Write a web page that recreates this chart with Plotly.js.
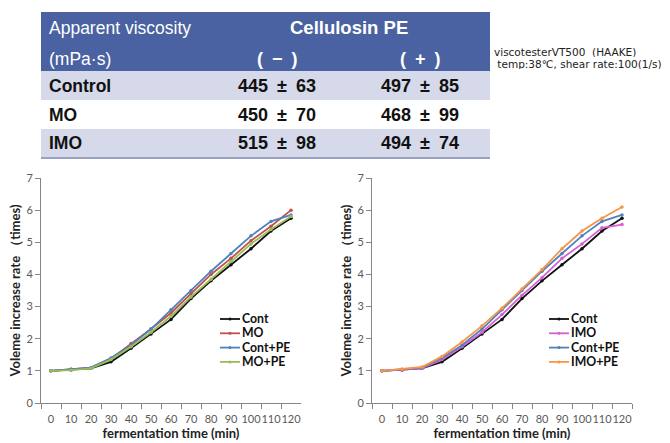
<!DOCTYPE html>
<html>
<head>
<meta charset="utf-8">
<script src="https://cdn.plot.ly/plotly-3.0.1.min.js"></script>
<style>html,body{margin:0;padding:0;background:#fff;}#chart{width:670px;height:443px;}</style>
</head>
<body>
<div id="chart"></div>
<script>
// ---------- data ----------
const times = ['0','10','20','30','40','50','60','70','80','90','100','110','120'];
const cont    = [1.00,1.03,1.08,1.28,1.70,2.15,2.60,3.25,3.80,4.30,4.80,5.35,5.75];
const mo      = [1.00,1.05,1.10,1.38,1.85,2.30,2.80,3.40,4.00,4.50,5.05,5.50,6.00];
const contPE  = [1.00,1.05,1.10,1.40,1.80,2.30,2.90,3.50,4.10,4.65,5.20,5.65,5.85];
const moPE    = [1.00,1.02,1.08,1.35,1.75,2.20,2.70,3.30,3.85,4.40,4.95,5.40,5.80];
const imo     = [1.00,1.03,1.08,1.35,1.75,2.20,2.75,3.35,3.90,4.50,4.95,5.45,5.55];
const imoPE   = [1.00,1.05,1.12,1.45,1.90,2.40,2.95,3.55,4.15,4.80,5.35,5.75,6.10];

const leftNames  = ['Cont','MO','Cont+PE','MO+PE'];
const rightNames = ['Cont','IMO','Cont+PE','IMO+PE'];
const leftSeries  = [cont, mo, contPE, moPE];
const rightSeries = [cont, imo, contPE, imoPE];
const leftColors  = ['#111111','#c0504d','#4f81bd','#9bbb59'];
const rightColors = ['#111111','#d65fd6','#4f81bd','#f79646'];

const tableHeader = ['Apparent viscosity','Cellulosin PE'];
const tableUnit   = '(mPa\u00b7s)';
const colLabels   = ['(\u2002\u2212\u2002)','(\u2002+\u2002)'];
const rowLabels   = ['Control','MO','IMO'];
const minusVals   = ['445\u2002\u00b1\u200263','450\u2002\u00b1\u200270','515\u2002\u00b1\u200298'];
const plusVals    = ['497\u2002\u00b1\u200285','468\u2002\u00b1\u200299','494\u2002\u00b1\u200274'];
const noteLines   = ['viscotesterVT500\u00a0\u00a0(HAAKE)','\u00a0temp:38\u2103,\u00a0shear\u00a0rate:100(1/s)'];

// ---------- helpers ----------
const W = 670, H = 443;
const px = x => x / W;
const py = y => 1 - y / H;

const traces = [];
leftSeries.forEach((s, i) => traces.push({
  x: times, y: s, type: 'scatter', mode: 'lines+markers', name: leftNames[i],
  xaxis: 'x', yaxis: 'y', showlegend: false,
  line: {color: leftColors[i], width: 1.8},
  marker: {color: leftColors[i], size: 3.5}
}));
rightSeries.forEach((s, i) => traces.push({
  x: times, y: s, type: 'scatter', mode: 'lines+markers', name: rightNames[i],
  xaxis: 'x2', yaxis: 'y2', showlegend: false,
  line: {color: rightColors[i], width: 1.8},
  marker: {color: rightColors[i], size: 3.5}
}));

const tickFont = {family: 'Lato, "Liberation Sans", sans-serif', size: 11, color: '#595959'};
const titleFont = {family: 'Lato, "Liberation Sans", sans-serif', size: 13, color: '#222222', weight: 'bold'};

function xAx(domain, anchor) {
  return {
    domain: domain, anchor: anchor, type: 'category', range: [-0.5, 12.5],
    showline: true, linecolor: '#868686', linewidth: 1,
    ticks: 'outside', tickson: 'boundaries', ticklen: 5, tickcolor: '#868686',
    tickangle: 0, ticklabelstandoff: 6,
    showgrid: false, zeroline: false, tickfont: tickFont,
    title: {text: '<b>fermentation time (min)</b>', font: titleFont, standoff: 4},
    fixedrange: true
  };
}
function yAx(domain, anchor) {
  return {
    domain: domain, anchor: anchor, range: [0, 7], dtick: 1,
    showline: true, linecolor: '#868686', linewidth: 1,
    ticks: 'outside', ticklen: 5, tickcolor: '#868686',
    showgrid: false, zeroline: false, tickfont: tickFont,
    title: {text: '<b>Voleme increase rate \uff08times)</b>', font: titleFont, standoff: 2},
    fixedrange: true
  };
}

const yDom = [py(403), py(178)];

const shapes = [];
const annotations = [];

// ---------- table ----------
const tL = 41, tR = 490, hTop = 12, hBot = 71, rowH = 29;
shapes.push({type: 'rect', xref: 'paper', yref: 'paper', x0: px(tL), x1: px(tR), y0: py(hBot), y1: py(hTop),
  fillcolor: '#4a62a2', line: {width: 0}, layer: 'below'});
const cellFont = {family: '"Liberation Sans", Arial, sans-serif', size: 17.5, color: '#111111', weight: 'bold'};
rowLabels.forEach((r, i) => {
  const top = hBot + i * rowH, bot = top + rowH;
  shapes.push({type: 'rect', xref: 'paper', yref: 'paper', x0: px(tL), x1: px(tR), y0: py(bot), y1: py(top),
    fillcolor: i % 2 === 0 ? '#d5d9e9' : '#ffffff', line: {width: 0}, layer: 'below'});
  const cy = py((top + bot) / 2);
  annotations.push({xref: 'paper', yref: 'paper', x: px(47), y: cy, text: '<b>' + r + '</b>', showarrow: false, xanchor: 'left', yanchor: 'middle', font: cellFont});
  annotations.push({xref: 'paper', yref: 'paper', x: px(277), y: cy, text: '<b>' + minusVals[i] + '</b>', showarrow: false, xanchor: 'center', yanchor: 'middle', font: Object.assign({}, cellFont, {size: 18})});
  annotations.push({xref: 'paper', yref: 'paper', x: px(420), y: cy, text: '<b>' + plusVals[i] + '</b>', showarrow: false, xanchor: 'center', yanchor: 'middle', font: Object.assign({}, cellFont, {size: 18})});
});
const tBot = hBot + rowLabels.length * rowH;
shapes.push({type: 'line', xref: 'paper', yref: 'paper', x0: px(tL), x1: px(tR), y0: py(tBot), y1: py(tBot),
  line: {color: '#9aa3c4', width: 2}});
const hf = {family: '"Liberation Sans", Arial, sans-serif', size: 17.5, color: '#ffffff'};
annotations.push({xref: 'paper', yref: 'paper', x: px(47), y: py(28), text: tableHeader[0], showarrow: false, xanchor: 'left', yanchor: 'middle', font: hf});
annotations.push({xref: 'paper', yref: 'paper', x: px(47), y: py(59), text: tableUnit, showarrow: false, xanchor: 'left', yanchor: 'middle', font: hf});
annotations.push({xref: 'paper', yref: 'paper', x: px(348.5), y: py(28), text: '<b>' + tableHeader[1] + '</b>', showarrow: false, xanchor: 'center', yanchor: 'middle', font: {family: hf.family, size: 18.5, color: '#ffffff', weight: 'bold'}});
annotations.push({xref: 'paper', yref: 'paper', x: px(277.5), y: py(59), text: '<b>' + colLabels[0] + '</b>', showarrow: false, xanchor: 'center', yanchor: 'middle', font: {family: hf.family, size: 18, color: '#ffffff', weight: 'bold'}});
annotations.push({xref: 'paper', yref: 'paper', x: px(420), y: py(59), text: '<b>' + colLabels[1] + '</b>', showarrow: false, xanchor: 'center', yanchor: 'middle', font: {family: hf.family, size: 18, color: '#ffffff', weight: 'bold'}});

// note
noteLines.forEach((t, i) => annotations.push({xref: 'paper', yref: 'paper', x: px(493), y: py(51.5 + i * 12), text: t,
  showarrow: false, xanchor: 'left', yanchor: 'middle', height: 11, valign: 'middle', borderpad: 0,
  font: {family: '"DejaVu Sans", sans-serif', size: 10.5, color: '#222222'}}));

// ---------- legends ----------
function legend(names, colors, x0) {
  names.forEach((n, i) => {
    const y = 319 + i * 14.3;
    shapes.push({type: 'line', xref: 'paper', yref: 'paper', x0: px(x0), x1: px(x0 + 20), y0: py(y), y1: py(y),
      line: {color: colors[i], width: 1.8}});
    shapes.push({type: 'circle', xref: 'paper', yref: 'paper', x0: px(x0 + 8.5), x1: px(x0 + 11.5), y0: py(y + 1.5), y1: py(y - 1.5),
      fillcolor: colors[i], line: {width: 0}});
    annotations.push({xref: 'paper', yref: 'paper', x: px(x0 + 20.5), y: py(y), text: '<b>' + n + '</b>', showarrow: false,
      xanchor: 'left', yanchor: 'middle', height: 13.5, valign: 'middle', borderpad: 0,
      font: {family: 'Lato, "Liberation Sans", sans-serif', size: 12.3, color: '#111111', weight: 'bold'}});
  });
}
legend(leftNames, leftColors, 220);
legend(rightNames, rightColors, 549);

const layout = {
  width: W, height: H, margin: {l: 0, r: 0, t: 0, b: 0},
  paper_bgcolor: '#ffffff', plot_bgcolor: '#ffffff',
  showlegend: false,
  xaxis: xAx([px(41), px(301)], 'y'),
  yaxis: yAx(yDom, 'x'),
  xaxis2: xAx([px(372), px(632)], 'y2'),
  yaxis2: yAx(yDom, 'x2'),
  shapes: shapes, annotations: annotations
};

Plotly.newPlot('chart', traces, layout, {displayModeBar: false, staticPlot: true});
</script>
</body>
</html>
